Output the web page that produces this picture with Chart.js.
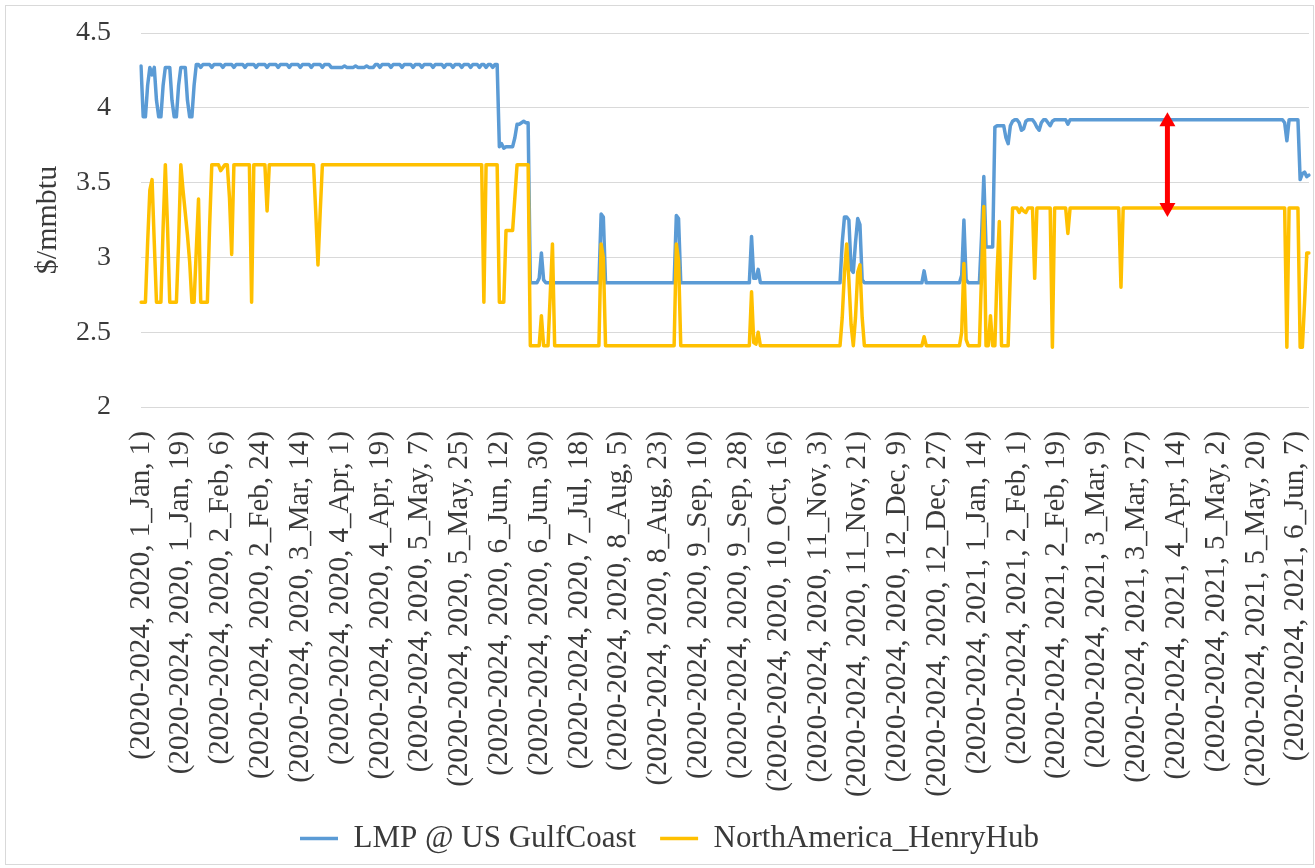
<!DOCTYPE html>
<html>
<head>
<meta charset="utf-8">
<title>LMP vs Henry Hub</title>
<script src="https://cdn.jsdelivr.net/npm/chart.js@4.4.1/dist/chart.umd.min.js"></script>
<style>
    html, body { margin: 0; padding: 0; background: #ffffff; }
    #wrap { position: relative; width: 1315px; height: 868px; overflow: hidden; }
    #frame {
        position: absolute; left: 5px; top: 5px; width: 1309px; height: 860px;
        border: 1px solid #d9d9d9; box-sizing: border-box; pointer-events: none;
    }
</style>
</head>
<body>
<div id="wrap">
    <canvas id="lineChart" width="1315" height="868"></canvas>
    <div id="frame"></div>
</div>
<script>
// 日次データ（2020/1/1〜2021/6/12、2/29 なし）。1行 = 18日 = 目盛り1つ分
const lmpGulfCoast = [
    4.28, 3.94, 3.94, 4.15, 4.27, 4.22, 4.27, 4.05, 3.94, 3.94, 4.15, 4.27, 4.27, 4.27, 4.05, 3.94, 3.94, 4.15, // 1 Jan
    4.27, 4.27, 4.27, 4.05, 3.94, 3.94, 4.15, 4.29, 4.29, 4.27, 4.29, 4.29, 4.29, 4.29, 4.27, 4.29, 4.29, 4.29, // 19 Jan
    4.29, 4.27, 4.29, 4.29, 4.29, 4.29, 4.27, 4.29, 4.29, 4.29, 4.29, 4.27, 4.29, 4.29, 4.29, 4.29, 4.27, 4.29, // 6 Feb
    4.29, 4.29, 4.29, 4.27, 4.29, 4.29, 4.29, 4.29, 4.27, 4.29, 4.29, 4.29, 4.29, 4.27, 4.29, 4.29, 4.29, 4.29, // 24 Feb
    4.27, 4.29, 4.29, 4.29, 4.29, 4.27, 4.29, 4.29, 4.29, 4.29, 4.27, 4.29, 4.29, 4.29, 4.27, 4.27, 4.27, 4.27, // 14 Mar
    4.27, 4.27, 4.28, 4.27, 4.27, 4.27, 4.27, 4.28, 4.27, 4.27, 4.27, 4.27, 4.28, 4.27, 4.27, 4.27, 4.29, 4.29, // 1 Apr
    4.27, 4.29, 4.29, 4.29, 4.29, 4.27, 4.29, 4.29, 4.29, 4.29, 4.27, 4.29, 4.29, 4.29, 4.29, 4.27, 4.29, 4.29, // 19 Apr
    4.29, 4.27, 4.29, 4.29, 4.29, 4.29, 4.27, 4.29, 4.29, 4.29, 4.29, 4.27, 4.29, 4.29, 4.29, 4.27, 4.29, 4.29, // 7 May
    4.29, 4.27, 4.29, 4.29, 4.29, 4.27, 4.29, 4.29, 4.29, 4.27, 4.29, 4.29, 4.27, 4.29, 4.29, 4.27, 4.29, 4.29, // 25 May
    3.74, 3.76, 3.73, 3.74, 3.74, 3.74, 3.74, 3.80, 3.89, 3.89, 3.90, 3.91, 3.90, 3.90, 2.83, 2.83, 2.83, 2.83, // 12 Jun
    2.86, 3.03, 2.85, 2.83, 2.83, 2.83, 2.83, 2.83, 2.83, 2.83, 2.83, 2.83, 2.83, 2.83, 2.83, 2.83, 2.83, 2.83, // 30 Jun
    2.83, 2.83, 2.83, 2.83, 2.83, 2.83, 2.83, 2.83, 2.83, 2.83, 3.29, 3.27, 2.83, 2.83, 2.83, 2.83, 2.83, 2.83, // 18 Jul
    2.83, 2.83, 2.83, 2.83, 2.83, 2.83, 2.83, 2.83, 2.83, 2.83, 2.83, 2.83, 2.83, 2.83, 2.83, 2.83, 2.83, 2.83, // 5 Aug
    2.83, 2.83, 2.83, 2.83, 2.83, 2.83, 2.83, 2.83, 3.28, 3.26, 2.83, 2.83, 2.83, 2.83, 2.83, 2.83, 2.83, 2.83, // 23 Aug
    2.83, 2.83, 2.83, 2.83, 2.83, 2.83, 2.83, 2.83, 2.83, 2.83, 2.83, 2.83, 2.83, 2.83, 2.83, 2.83, 2.83, 2.83, // 10 Sep
    2.83, 2.83, 2.83, 2.83, 2.83, 2.83, 3.14, 2.86, 2.86, 2.92, 2.83, 2.83, 2.83, 2.83, 2.83, 2.83, 2.83, 2.83, // 28 Sep
    2.83, 2.83, 2.83, 2.83, 2.83, 2.83, 2.83, 2.83, 2.83, 2.83, 2.83, 2.83, 2.83, 2.83, 2.83, 2.83, 2.83, 2.83, // 16 Oct
    2.83, 2.83, 2.83, 2.83, 2.83, 2.83, 2.83, 2.83, 2.83, 2.83, 2.83, 3.10, 3.27, 3.27, 3.25, 2.92, 2.90, 3.10, // 3 Nov
    3.26, 3.22, 2.85, 2.83, 2.83, 2.83, 2.83, 2.83, 2.83, 2.83, 2.83, 2.83, 2.83, 2.83, 2.83, 2.83, 2.83, 2.83, // 21 Nov
    2.83, 2.83, 2.83, 2.83, 2.83, 2.83, 2.83, 2.83, 2.83, 2.83, 2.83, 2.83, 2.91, 2.83, 2.83, 2.83, 2.83, 2.83, // 9 Dec
    2.83, 2.83, 2.83, 2.83, 2.83, 2.83, 2.83, 2.83, 2.83, 2.83, 2.83, 2.88, 3.25, 2.85, 2.83, 2.83, 2.83, 2.83, // 27 Dec
    2.83, 2.83, 3.15, 3.54, 3.07, 3.07, 3.07, 3.07, 3.87, 3.88, 3.88, 3.88, 3.88, 3.80, 3.76, 3.88, 3.91, 3.92, // 14 Jan 2021
    3.92, 3.90, 3.85, 3.86, 3.91, 3.92, 3.92, 3.92, 3.90, 3.87, 3.85, 3.90, 3.92, 3.92, 3.90, 3.88, 3.91, 3.92, // 1 Feb
    3.92, 3.92, 3.92, 3.92, 3.92, 3.89, 3.92, 3.92, 3.92, 3.92, 3.92, 3.92, 3.92, 3.92, 3.92, 3.92, 3.92, 3.92, // 19 Feb
    3.92, 3.92, 3.92, 3.92, 3.92, 3.92, 3.92, 3.92, 3.92, 3.92, 3.92, 3.92, 3.92, 3.92, 3.92, 3.92, 3.92, 3.92, // 9 Mar
    3.92, 3.92, 3.92, 3.92, 3.92, 3.92, 3.92, 3.92, 3.92, 3.92, 3.92, 3.92, 3.92, 3.92, 3.92, 3.92, 3.92, 3.92, // 27 Mar
    3.92, 3.92, 3.92, 3.92, 3.92, 3.92, 3.92, 3.92, 3.92, 3.92, 3.92, 3.92, 3.92, 3.92, 3.92, 3.92, 3.92, 3.92, // 14 Apr
    3.92, 3.92, 3.92, 3.92, 3.92, 3.92, 3.92, 3.92, 3.92, 3.92, 3.92, 3.92, 3.92, 3.92, 3.92, 3.92, 3.92, 3.92, // 2 May
    3.92, 3.92, 3.92, 3.92, 3.92, 3.92, 3.92, 3.92, 3.92, 3.92, 3.92, 3.92, 3.92, 3.90, 3.78, 3.92, 3.92, 3.92, // 20 May
    3.92, 3.92, 3.52, 3.56, 3.57, 3.54, 3.55                                                                    // 7 Jun
];

const henryHub = [
    2.70, 2.70, 2.70, 3.10, 3.45, 3.52, 3.10, 2.70, 2.70, 2.70, 3.20, 3.62, 3.20, 2.70, 2.70, 2.70, 2.70, 3.10, // 1 Jan
    3.62, 3.45, 3.30, 3.15, 2.97, 2.70, 2.70, 3.05, 3.39, 2.70, 2.70, 2.70, 2.70, 3.20, 3.62, 3.62, 3.62, 3.62, // 19 Jan
    3.58, 3.60, 3.62, 3.62, 3.40, 3.02, 3.62, 3.62, 3.62, 3.62, 3.62, 3.62, 3.62, 3.62, 2.70, 3.62, 3.62, 3.62, // 6 Feb
    3.62, 3.62, 3.62, 3.31, 3.62, 3.62, 3.62, 3.62, 3.62, 3.62, 3.62, 3.62, 3.62, 3.62, 3.62, 3.62, 3.62, 3.62, // 24 Feb
    3.62, 3.62, 3.62, 3.62, 3.62, 3.62, 3.62, 3.30, 2.95, 3.30, 3.62, 3.62, 3.62, 3.62, 3.62, 3.62, 3.62, 3.62, // 14 Mar
    3.62, 3.62, 3.62, 3.62, 3.62, 3.62, 3.62, 3.62, 3.62, 3.62, 3.62, 3.62, 3.62, 3.62, 3.62, 3.62, 3.62, 3.62, // 1 Apr
    3.62, 3.62, 3.62, 3.62, 3.62, 3.62, 3.62, 3.62, 3.62, 3.62, 3.62, 3.62, 3.62, 3.62, 3.62, 3.62, 3.62, 3.62, // 19 Apr
    3.62, 3.62, 3.62, 3.62, 3.62, 3.62, 3.62, 3.62, 3.62, 3.62, 3.62, 3.62, 3.62, 3.62, 3.62, 3.62, 3.62, 3.62, // 7 May
    3.62, 3.62, 3.62, 3.62, 3.62, 3.62, 3.62, 3.62, 3.62, 3.62, 3.62, 2.70, 3.62, 3.62, 3.62, 3.62, 3.62, 3.62, // 25 May
    2.70, 2.70, 2.70, 3.18, 3.18, 3.18, 3.18, 3.40, 3.62, 3.62, 3.62, 3.62, 3.62, 3.62, 2.41, 2.41, 2.41, 2.41, // 12 Jun
    2.41, 2.61, 2.41, 2.41, 2.41, 2.75, 3.09, 2.41, 2.41, 2.41, 2.41, 2.41, 2.41, 2.41, 2.41, 2.41, 2.41, 2.41, // 30 Jun
    2.41, 2.41, 2.41, 2.41, 2.41, 2.41, 2.41, 2.41, 2.41, 2.41, 3.09, 3.00, 2.41, 2.41, 2.41, 2.41, 2.41, 2.41, // 18 Jul
    2.41, 2.41, 2.41, 2.41, 2.41, 2.41, 2.41, 2.41, 2.41, 2.41, 2.41, 2.41, 2.41, 2.41, 2.41, 2.41, 2.41, 2.41, // 5 Aug
    2.41, 2.41, 2.41, 2.41, 2.41, 2.41, 2.41, 2.41, 3.09, 2.98, 2.41, 2.41, 2.41, 2.41, 2.41, 2.41, 2.41, 2.41, // 23 Aug
    2.41, 2.41, 2.41, 2.41, 2.41, 2.41, 2.41, 2.41, 2.41, 2.41, 2.41, 2.41, 2.41, 2.41, 2.41, 2.41, 2.41, 2.41, // 10 Sep
    2.41, 2.41, 2.41, 2.41, 2.41, 2.41, 2.77, 2.43, 2.42, 2.50, 2.41, 2.41, 2.41, 2.41, 2.41, 2.41, 2.41, 2.41, // 28 Sep
    2.41, 2.41, 2.41, 2.41, 2.41, 2.41, 2.41, 2.41, 2.41, 2.41, 2.41, 2.41, 2.41, 2.41, 2.41, 2.41, 2.41, 2.41, // 16 Oct
    2.41, 2.41, 2.41, 2.41, 2.41, 2.41, 2.41, 2.41, 2.41, 2.41, 2.41, 2.60, 2.90, 3.09, 2.85, 2.55, 2.41, 2.60, // 3 Nov
    2.90, 2.95, 2.60, 2.41, 2.41, 2.41, 2.41, 2.41, 2.41, 2.41, 2.41, 2.41, 2.41, 2.41, 2.41, 2.41, 2.41, 2.41, // 21 Nov
    2.41, 2.41, 2.41, 2.41, 2.41, 2.41, 2.41, 2.41, 2.41, 2.41, 2.41, 2.41, 2.47, 2.41, 2.41, 2.41, 2.41, 2.41, // 9 Dec
    2.41, 2.41, 2.41, 2.41, 2.41, 2.41, 2.41, 2.41, 2.41, 2.41, 2.41, 2.50, 2.96, 2.45, 2.41, 2.41, 2.41, 2.41, // 27 Dec
    2.41, 2.41, 2.90, 3.34, 2.41, 2.41, 2.61, 2.41, 2.41, 2.90, 3.24, 2.41, 2.41, 2.41, 2.41, 2.90, 3.33, 3.33, // 14 Jan 2021
    3.33, 3.30, 3.33, 3.31, 3.30, 3.33, 3.33, 3.33, 2.86, 3.33, 3.33, 3.33, 3.33, 3.33, 3.33, 3.33, 2.40, 3.33, // 1 Feb
    3.33, 3.33, 3.33, 3.33, 3.33, 3.16, 3.33, 3.33, 3.33, 3.33, 3.33, 3.33, 3.33, 3.33, 3.33, 3.33, 3.33, 3.33, // 19 Feb
    3.33, 3.33, 3.33, 3.33, 3.33, 3.33, 3.33, 3.33, 3.33, 3.33, 3.33, 2.80, 3.33, 3.33, 3.33, 3.33, 3.33, 3.33, // 9 Mar
    3.33, 3.33, 3.33, 3.33, 3.33, 3.33, 3.33, 3.33, 3.33, 3.33, 3.33, 3.33, 3.33, 3.33, 3.33, 3.33, 3.33, 3.33, // 27 Mar
    3.33, 3.33, 3.33, 3.33, 3.33, 3.33, 3.33, 3.33, 3.33, 3.33, 3.33, 3.33, 3.33, 3.33, 3.33, 3.33, 3.33, 3.33, // 14 Apr
    3.33, 3.33, 3.33, 3.33, 3.33, 3.33, 3.33, 3.33, 3.33, 3.33, 3.33, 3.33, 3.33, 3.33, 3.33, 3.33, 3.33, 3.33, // 2 May
    3.33, 3.33, 3.33, 3.33, 3.33, 3.33, 3.33, 3.33, 3.33, 3.33, 3.33, 3.33, 3.33, 3.33, 2.40, 3.33, 3.33, 3.33, // 20 May
    3.33, 3.33, 2.40, 2.40, 2.70, 3.03, 3.03                                                                    // 7 Jun
];

// 18日ごとの目盛りラベル
const tickLabels = [
    '(2020-2024, 2020, 1_Jan, 1)', '(2020-2024, 2020, 1_Jan, 19)', '(2020-2024, 2020, 2_Feb, 6)',
    '(2020-2024, 2020, 2_Feb, 24)', '(2020-2024, 2020, 3_Mar, 14)', '(2020-2024, 2020, 4_Apr, 1)',
    '(2020-2024, 2020, 4_Apr, 19)', '(2020-2024, 2020, 5_May, 7)', '(2020-2024, 2020, 5_May, 25)',
    '(2020-2024, 2020, 6_Jun, 12)', '(2020-2024, 2020, 6_Jun, 30)', '(2020-2024, 2020, 7_Jul, 18)',
    '(2020-2024, 2020, 8_Aug, 5)', '(2020-2024, 2020, 8_Aug, 23)', '(2020-2024, 2020, 9_Sep, 10)',
    '(2020-2024, 2020, 9_Sep, 28)', '(2020-2024, 2020, 10_Oct, 16)', '(2020-2024, 2020, 11_Nov, 3)',
    '(2020-2024, 2020, 11_Nov, 21)', '(2020-2024, 2020, 12_Dec, 9)', '(2020-2024, 2020, 12_Dec, 27)',
    '(2020-2024, 2021, 1_Jan, 14)', '(2020-2024, 2021, 2_Feb, 1)', '(2020-2024, 2021, 2_Feb, 19)',
    '(2020-2024, 2021, 3_Mar, 9)', '(2020-2024, 2021, 3_Mar, 27)', '(2020-2024, 2021, 4_Apr, 14)',
    '(2020-2024, 2021, 5_May, 2)', '(2020-2024, 2021, 5_May, 20)', '(2020-2024, 2021, 6_Jun, 7)'
];
const tickEvery = 18;

// 赤い矢印（2021年4月上旬の価格差）
const spreadArrow = { day: 464, low: 3.27, high: 3.97 };

const serif = 'Liberation Serif';
const textColor = '#3a3a3a';

const arrowPlugin = {
    id: 'spreadArrow',
    afterDatasetsDraw(chart) {
        const { ctx, scales } = chart;
        const x = scales.x.getPixelForValue(spreadArrow.day);
        const top = scales.y.getPixelForValue(spreadArrow.high);
        const bottom = scales.y.getPixelForValue(spreadArrow.low);
        const head = 14, half = 8;

        ctx.save();
        ctx.strokeStyle = '#ff0000';
        ctx.fillStyle = '#ff0000';
        ctx.lineWidth = 5;
        ctx.beginPath();
        ctx.moveTo(x, top + head - 2);
        ctx.lineTo(x, bottom - head + 2);
        ctx.stroke();

        ctx.beginPath();
        ctx.moveTo(x, top);
        ctx.lineTo(x - half, top + head);
        ctx.lineTo(x + half, top + head);
        ctx.closePath();
        ctx.fill();

        ctx.beginPath();
        ctx.moveTo(x, bottom);
        ctx.lineTo(x - half, bottom - head);
        ctx.lineTo(x + half, bottom - head);
        ctx.closePath();
        ctx.fill();
        ctx.restore();
    }
};

let myLineChart;

function initializeChart() {
    const ctx = document.getElementById('lineChart').getContext('2d');
    myLineChart = new Chart(ctx, {
        type: 'line',
        data: {
            labels: lmpGulfCoast.map((v, i) => i),
            datasets: [{
                label: 'LMP @ US GulfCoast',
                data: lmpGulfCoast,
                borderColor: '#5b9bd5',
                backgroundColor: '#5b9bd5',
                borderWidth: 3.5,
                order: 1 // 黄色の線の下に描く
            }, {
                label: 'NorthAmerica_HenryHub',
                data: henryHub,
                borderColor: '#ffc000',
                backgroundColor: '#ffc000',
                borderWidth: 3.5,
                order: 0
            }]
        },
        options: {
            responsive: false,
            animation: false,
            devicePixelRatio: 1,
            elements: {
                point: { radius: 0, hoverRadius: 0 },
                line: { tension: 0, borderJoinStyle: 'round', borderCapStyle: 'round' }
            },
            layout: { padding: { top: 33, right: 6, bottom: 4, left: 30 } },
            plugins: {
                tooltip: { enabled: false },
                legend: {
                    position: 'bottom',
                    labels: {
                        usePointStyle: true,
                        pointStyle: 'line',
                        pointStyleWidth: 38,
                        padding: 24,
                        color: textColor,
                        font: { family: serif, size: 31 },
                        sort: (a, b) => a.datasetIndex - b.datasetIndex
                    }
                }
            },
            scales: {
                x: {
                    grid: { display: false },
                    border: { display: false },
                    ticks: {
                        autoSkip: false,
                        minRotation: 90,
                        maxRotation: 90,
                        padding: 16,
                        color: textColor,
                        font: { family: serif, size: 29 },
                        callback: (value, index) => index % tickEvery === 0 ? tickLabels[index / tickEvery] : ''
                    },
                    // 軸の高さと左右の余白を固定
                    afterFit(scale) {
                        scale.height = 392;
                        scale.paddingLeft = 0;
                        scale.paddingRight = 0;
                    }
                },
                y: {
                    min: 2,
                    max: 4.5,
                    border: { display: false },
                    grid: { color: '#d9d9d9', lineWidth: 1, drawTicks: false },
                    ticks: {
                        stepSize: 0.5,
                        padding: 30,
                        color: textColor,
                        font: { family: serif, size: 28 },
                        callback: (value) => String(value)
                    },
                    title: {
                        display: true,
                        text: '$/mmbtu',
                        color: textColor,
                        font: { family: serif, size: 30 },
                        padding: { top: 0, bottom: 0 }
                    },
                    afterFit(scale) {
                        scale.width = 111;
                        scale.paddingTop = 0;
                        scale.paddingBottom = 0;
                    }
                }
            }
        },
        plugins: [arrowPlugin]
    });
}

document.addEventListener('DOMContentLoaded', initializeChart);
</script>
</body>
</html>
